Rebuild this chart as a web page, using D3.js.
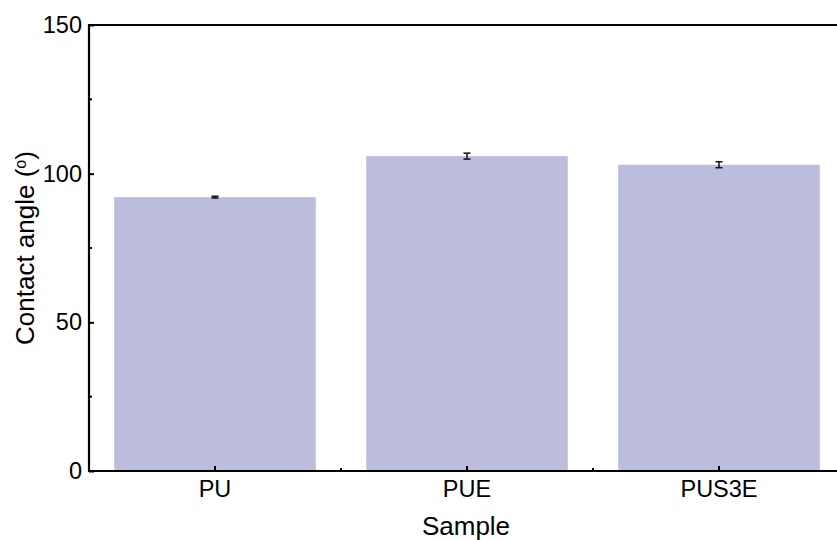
<!DOCTYPE html>
<html>
<head>
<meta charset="utf-8">
<script src="https://cdn.jsdelivr.net/npm/d3@7"></script>
<style>
  body { margin: 0; background: #fff; }
  text { font-family: "Liberation Sans", Arial, sans-serif; }
</style>
</head>
<body>
<svg id="drawing_region"></svg>
<script>
const samples = ["PU", "PUE", "PUS3E"];
const angles = [92.1, 105.9, 103.0];
const errors = [0.3, 1.0, 1.0];
const yTicks = [0, 50, 100, 150];
const yMinorTicks = [25, 75, 125];

const width = 837, height = 540;
const margin = { left: 89, top: 25, right: -8, bottom: 69 };

const svg = d3.select('#drawing_region')
    .attr('width', width)
    .attr('height', height);

const x = d3.scaleBand()
    .domain(samples)
    .range([margin.left, width - margin.right])
    .paddingInner(0.2)
    .paddingOuter(0.1);

const y = d3.scaleLinear()
    .domain([0, 150])
    .range([height - margin.bottom, margin.top]);

const data = samples.map((s, i) => ({ name: s, value: angles[i], err: errors[i] }));

// bars
svg.append('g').selectAll('rect')
    .data(data)
    .enter()
    .append('rect')
    .attr('x', d => x(d.name))
    .attr('y', d => y(d.value))
    .attr('width', x.bandwidth())
    .attr('height', d => y(0) - y(d.value))
    .attr('fill', '#bcbddc');

// error bars
const eb = svg.append('g')
    .attr('stroke', '#111')
    .attr('stroke-width', 1.5);
data.forEach(d => {
    const cx = x(d.name) + x.bandwidth() / 2;
    eb.append('line')
        .attr('x1', cx).attr('x2', cx)
        .attr('y1', y(d.value + d.err)).attr('y2', y(d.value - d.err));
    [d.value + d.err, d.value - d.err].forEach(v => {
        eb.append('line')
            .attr('x1', cx - 3.5).attr('x2', cx + 3.5)
            .attr('y1', y(v)).attr('y2', y(v));
    });
});

// y axis
const yAxis = svg.append('g')
    .attr('transform', `translate(${margin.left},0)`)
    .call(d3.axisLeft(y).tickValues(yTicks).tickSize(-5).tickPadding(10).tickSizeOuter(0));
yAxis.select('.domain').remove();
yAxis.selectAll('.tick line').attr('stroke', '#000').attr('stroke-width', 2);
yAxis.selectAll('.tick text')
    .attr('x', -7)
    .style('font-size', '23.5px')
    .attr('fill', '#000');

svg.append('g').selectAll('line')
    .data(yMinorTicks)
    .enter()
    .append('line')
    .attr('x1', margin.left).attr('x2', margin.left + 3)
    .attr('y1', d => y(d)).attr('y2', d => y(d))
    .attr('stroke', '#000').attr('stroke-width', 2);

// x axis
const xAxis = svg.append('g')
    .attr('transform', `translate(0,${y(0)})`)
    .call(d3.axisBottom(x).tickSize(-5).tickPadding(0).tickSizeOuter(0));
xAxis.select('.domain').remove();
xAxis.selectAll('.tick line').attr('stroke', '#000').attr('stroke-width', 2);
xAxis.selectAll('.tick text')
    .attr('y', 26)
    .attr('dy', null)
    .style('font-size', '23.5px')
    .attr('fill', '#000');

// minor x ticks between categories
svg.append('g').selectAll('line')
    .data(samples.slice(1))
    .enter()
    .append('line')
    .attr('x1', d => x(d) - x.step() * x.paddingInner() / 2)
    .attr('x2', d => x(d) - x.step() * x.paddingInner() / 2)
    .attr('y1', y(0)).attr('y2', y(0) - 3)
    .attr('stroke', '#000').attr('stroke-width', 2);

// frame lines: left, bottom, top
svg.append('path')
    .attr('d', `M${width},${y(150)}H${margin.left}V${y(0)}H${width}`)
    .attr('fill', 'none')
    .attr('stroke', '#000')
    .attr('stroke-width', 2.2);

// titles
svg.append('text')
    .attr('x', 466)
    .attr('y', 535)
    .attr('text-anchor', 'middle')
    .style('font-size', '26px')
    .text('Sample');

const yt = svg.append('text')
    .attr('transform', `translate(34,${(y(0) + y(150)) / 2}) rotate(-90)`)
    .attr('text-anchor', 'middle')
    .style('font-size', '26px');
yt.append('tspan').text('Contact angle (');
yt.append('tspan').attr('dy', -8).style('font-size', '16px').text('o');
yt.append('tspan').attr('dy', 8).text(')');
</script>
</body>
</html>
